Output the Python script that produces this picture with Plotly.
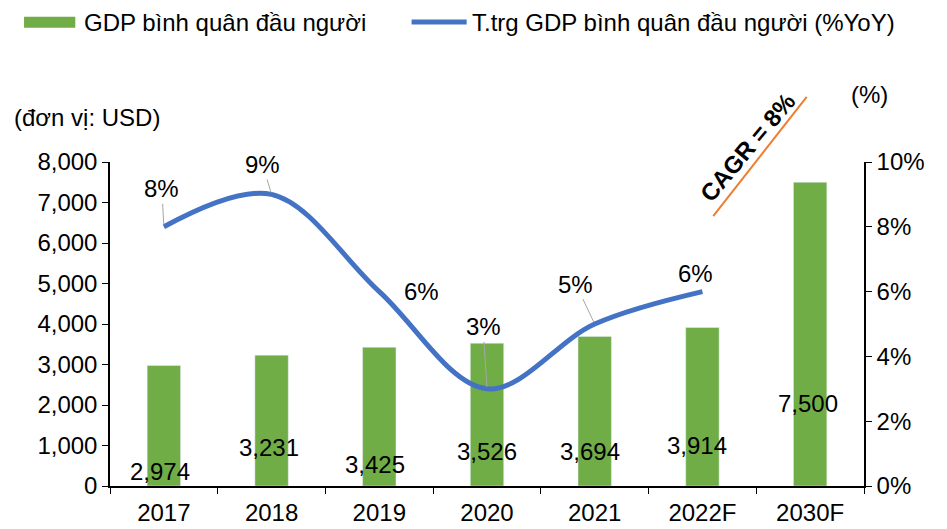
import plotly.graph_objects as go

categories = ["2017", "2018", "2019", "2020", "2021", "2022F", "2030F"]
gdp_per_capita = [2974, 3231, 3425, 3526, 3694, 3914, 7500]
growth_cats = ["2017", "2018", "2019", "2020", "2021", "2022F"]
growth_yoy = [0.08, 0.09, 0.06, 0.03, 0.05, 0.06]
growth_labels = ["8%", "9%", "6%", "3%", "5%", "6%"]

# label placement (style/position, not data)
bar_label_y = [370, 963, 519, 864, 840, 988, 2049]
bar_label_dx = [-4, -3, -4, 0, -5, -5, -2]
line_label_off = [(-2, -38, True), (-9, -30, True), (42, 0, False),
                  (-4, -62, True), (-19, -40, True), (-7, -18, False)]

FONT = "Liberation Sans, Arial, sans-serif"
FS = 24
GREEN = "#70AD47"
BLUE = "#4472C4"
ORANGE = "#ED7D31"

fig = go.Figure()
fig.add_trace(go.Bar(x=categories, y=gdp_per_capita, marker_color=GREEN,
                     width=0.31, name="GDP bình quân đầu người", showlegend=False))
fig.add_trace(go.Scatter(x=growth_cats, y=growth_yoy, yaxis="y2", mode="lines",
                         line=dict(color=BLUE, width=5, shape="spline", smoothing=1.0),
                         name="T.trg GDP bình quân đầu người (%YoY)", showlegend=False))

ann = []
for i, (v, yl, dx) in enumerate(zip(gdp_per_capita, bar_label_y, bar_label_dx)):
    ann.append(dict(x=i, y=yl, xref="x", yref="y", text=f"{v:,}", showarrow=False,
                    xshift=dx, xanchor="center", yanchor="middle",
                    font=dict(size=FS, color="black", family=FONT)))
for i, (v, t, (ax, ay, arr)) in enumerate(zip(growth_yoy, growth_labels, line_label_off)):
    ann.append(dict(x=i, y=v, xref="x", yref="y2", text=t, showarrow=True,
                    ax=ax, ay=ay, arrowhead=0, arrowwidth=1,
                    arrowcolor="#A6A6A6" if arr else "rgba(0,0,0,0)",
                    standoff=2, font=dict(size=FS, color="black", family=FONT)))

# axis titles
ann.append(dict(x=-0.130, y=1.136, xref="paper", yref="paper", xanchor="left", yanchor="middle",
                text="(đơn vị: USD)", showarrow=False,
                font=dict(size=FS, color="black", family=FONT)))
ann.append(dict(x=1.007, y=1.207, xref="paper", yref="paper", xanchor="center", yanchor="middle",
                text="(%)", showarrow=False,
                font=dict(size=FS, color="black", family=FONT)))
# CAGR
ann.append(dict(x=0.845, y=1.046, xref="paper", yref="paper", text="<b>CAGR = 8%</b>",
                xanchor="center", yanchor="middle",
                textangle=-50, showarrow=False,
                font=dict(size=FS, color="black", family=FONT)))
# custom legend
ann.append(dict(x=-0.037, y=1.432, xref="paper", yref="paper", xanchor="left", yanchor="middle",
                text="GDP bình quân đầu người", showarrow=False,
                font=dict(size=FS, color="black", family=FONT)))
ann.append(dict(x=0.477, y=1.432, xref="paper", yref="paper", xanchor="left", yanchor="middle",
                text="T.trg GDP bình quân đầu người (%YoY)", showarrow=False,
                font=dict(size=FS, color="black", family=FONT)))

shapes = [
    dict(type="line", xref="paper", yref="paper", x0=0.800, y0=0.833, x1=0.924, y1=1.201,
         line=dict(color=ORANGE, width=2)),
    dict(type="rect", xref="paper", yref="paper", x0=-0.114, x1=-0.046, y0=1.414, y1=1.448,
         fillcolor=GREEN, line=dict(width=0)),
    dict(type="line", xref="paper", yref="paper", x0=0.400, x1=0.473, y0=1.432, y1=1.432,
         line=dict(color=BLUE, width=5)),
]

fig.update_layout(
    width=939, height=521,
    margin=dict(l=102, r=83, t=154, b=43),
    paper_bgcolor="white", plot_bgcolor="white",
    font=dict(family=FONT, size=FS, color="black"),
    showlegend=False,
    annotations=ann, shapes=shapes,
    xaxis=dict(type="category", categoryorder="array", categoryarray=categories,
               range=[-0.5, len(categories) - 0.5], tickangle=0, automargin=False,
               showline=True, linecolor="black", linewidth=1.5,
               ticks="outside", ticklen=6, tickcolor="black", tickson="boundaries",
               ticklabelstandoff=4,
               showgrid=False, tickfont=dict(size=FS)),
    yaxis=dict(range=[0, 8000], dtick=1000, tickformat=",d", automargin=False,
               showline=True, linecolor="black", linewidth=1.5,
               ticks="outside", ticklen=6, tickcolor="black",
               showgrid=False, zeroline=False, tickfont=dict(size=FS)),
    yaxis2=dict(range=[0, 0.10], dtick=0.02, tickformat=".0%", overlaying="y", side="right",
                automargin=False,
                showline=True, linecolor="black", linewidth=1.5,
                ticks="outside", ticklen=6, tickcolor="black",
                showgrid=False, zeroline=False, tickfont=dict(size=FS)),
)

fig.write_html("out.html")
